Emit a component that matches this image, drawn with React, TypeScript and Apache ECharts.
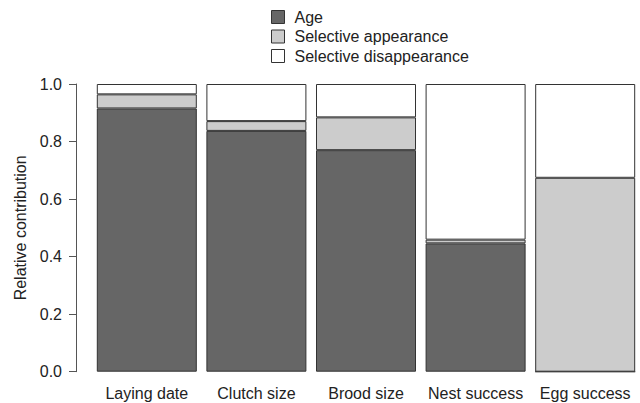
import React, { useEffect, useRef } from "react";
import * as echarts from "echarts";

const categories = ["Laying date", "Clutch size", "Brood size", "Nest success", "Egg success"];
const seriesNames = ["Age", "Selective appearance", "Selective disappearance"];
const ageValues = [0.915, 0.837, 0.77, 0.446, 0];
const appearanceValues = [0.049, 0.034, 0.114, 0.013, 0.674];
const disappearanceValues = [0.036, 0.129, 0.116, 0.541, 0.326];
const yTicks = [0, 0.2, 0.4, 0.6, 0.8, 1.0];

const colors = ["#666666", "#cccccc", "#ffffff"];
const FONT = "'Liberation Sans', Arial, sans-serif";

export default function App() {
  const ref = useRef<HTMLDivElement>(null);

  useEffect(() => {
    document.body.style.margin = "0";
    if (!ref.current) return;
    const chart = echarts.init(ref.current, undefined, { renderer: "svg" });
    const values = [ageValues, appearanceValues, disappearanceValues];
    chart.setOption({
      animation: false,
      backgroundColor: "#ffffff",
      textStyle: { fontFamily: FONT },
      legend: {
        orient: "vertical",
        left: 271,
        top: 9,
        padding: 0,
        icon: "rect",
        itemWidth: 13,
        itemHeight: 13,
        itemGap: 3.5,
        textStyle: { fontSize: 16, color: "#222222", fontFamily: FONT, padding: [0, 0, 0, 5] },
        data: seriesNames.map((n, i) => ({
          name: n,
          itemStyle: { color: colors[i], borderColor: "#333333", borderWidth: 1 },
        })),
        selectedMode: false,
      },
      grid: { left: 92, right: 0, top: 84, bottom: 31.3 },
      xAxis: {
        type: "category",
        data: categories,
        axisLine: { show: false },
        axisTick: { show: false },
        axisLabel: { fontSize: 16, color: "#222222", margin: 14, interval: 0, fontFamily: FONT },
      },
      yAxis: {
        type: "value",
        min: yTicks[0],
        max: yTicks[yTicks.length - 1],
        interval: 0.2,
        offset: 16,
        name: "Relative contribution",
        nameLocation: "middle",
        nameGap: 43,
        nameTextStyle: { fontSize: 16, color: "#222222", fontFamily: FONT },
        axisLine: { show: true, lineStyle: { color: "#555555", width: 1 } },
        axisTick: { show: true, length: 7, lineStyle: { color: "#555555", width: 1 } },
        axisLabel: {
          fontSize: 16,
          color: "#222222",
          margin: 14,
          fontFamily: FONT,
          formatter: (v: number) => v.toFixed(1),
        },
        splitLine: { show: false },
      },
      series: seriesNames.map((n, i) => ({
        name: n,
        type: "bar",
        stack: "total",
        barWidth: 100,
        data: values[i],
        itemStyle: { color: colors[i], borderColor: "#333333", borderWidth: 1 },
        emphasis: { disabled: true },
      })),
    });
    return () => chart.dispose();
  }, []);

  return <div ref={ref} style={{ width: 640, height: 403 }} />;
}
